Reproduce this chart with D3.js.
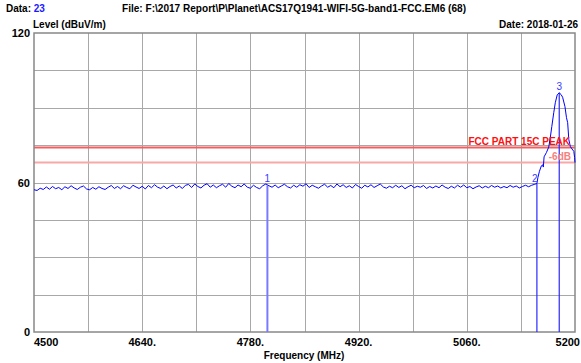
<!DOCTYPE html>
<html>
<head>
<meta charset="utf-8">
<script src="https://cdn.jsdelivr.net/npm/d3@7"></script>
<style>
  body { margin: 0; background: #fff; }
  text { font-family: "Liberation Sans", Arial, sans-serif; }
</style>
</head>
<body>
<div id="chart"></div>
<script>
// sweep: 4500 MHz start, 4 MHz per sample, levels in dBuV/m
var sweepStart = 4500;
var sweepStep = 4;
var noiseLevels = [
  57.1, 56.8, 57.7, 57.2, 58.2, 57.3, 58.4, 57.5, 58.0, 57.1, 58.3, 57.6, 58.7, 57.8, 57.2, 58.1, 58.6, 57.4, 57.1, 58.0, 57.3, 58.3, 57.6, 57.2, 58.1,
  58.8, 57.6, 58.4, 57.5, 58.7, 58.0, 57.5, 58.9, 58.2, 57.6, 58.5, 57.4, 58.8, 57.9, 59.1, 58.1, 57.6, 58.6, 57.5, 58.4, 59.0, 57.8, 58.6, 57.6, 58.9,
  59.2, 58.0, 59.4, 58.4, 57.8, 58.9, 59.5, 58.1, 59.0, 57.9, 58.7, 59.3, 58.1, 59.6, 58.5, 57.9, 59.0, 58.3, 59.4, 58.1, 57.7, 58.9, 58.0, 57.5, 58.7,
  59.4, 58.7, 58.1, 59.0, 57.9, 58.6, 59.3, 58.3, 57.8, 58.9, 58.1, 59.1, 58.5, 59.5, 58.0, 58.9, 58.3, 57.7, 58.6, 59.3, 58.1, 58.8, 57.9, 59.4, 58.3,
  59.1, 58.0, 58.7, 57.8, 59.2, 58.4, 57.7, 58.9, 58.2, 59.1, 58.0, 58.7, 59.4, 58.2, 57.7, 58.5, 57.9, 58.9, 58.0, 58.7, 57.5, 58.3, 58.9, 57.9, 58.5,
  58.1, 58.8, 57.6, 58.4, 57.8, 58.6, 57.9, 59.0, 58.1, 57.6, 58.5, 57.8, 58.9, 58.1, 59.0, 57.9, 58.4, 57.5, 58.2, 58.7, 57.8, 58.5, 57.9, 58.8, 58.1,
  58.6, 57.8, 58.4, 57.9, 58.8, 58.1, 58.6, 57.8, 58.4, 58.9, 58.3, 58.9, 59.3
];
// emission peak at the band edge, [MHz, dBuV/m]
var peakTrace = [
  [5150.7, 59.6], [5152, 62.0], [5154, 64.5], [5156.5, 66.7], [5158, 67.1], [5159, 66.2],
  [5160, 70.3], [5163, 72.0], [5166, 74.2], [5168, 78.0], [5170, 82.5], [5172.5, 88.0],
  [5174.5, 92.0], [5177, 95.2], [5179.6, 96.0], [5182, 95.3], [5184, 94.2], [5187, 90.5],
  [5189, 86.0], [5190.5, 84.0], [5192, 77.2], [5194, 74.4], [5196, 73.5], [5198.5, 72.5],
  [5199.5, 70.0], [5200, 68.0]
];
var markers = [
  { name: "1", freq: 4802, level: 58.8 },
  { name: "2", freq: 5150.7, level: 59.6 },
  { name: "3", freq: 5179.6, level: 96.0 }
];
var limits = [
  { label: "FCC PART 15C PEAK", level: 74 },
  { label: "-6dB", level: 68 }
];
var xTickLabels = [4500, 4640, 4780, 4920, 5060, 5200];
var yTickLabels = [0, 60, 120];

var width = 581, height = 363;
var margin = { top: 33, right: 6, bottom: 31, left: 34 };

var svg = d3.select('#chart').append('svg')
    .attr('width', width)
    .attr('height', height);

var x = d3.scaleLinear().domain([4500, 5200]).range([margin.left, width - margin.right]);
var y = d3.scaleLinear().domain([0, 120]).range([height - margin.bottom, margin.top]);

// header texts
var head = svg.append('text')
    .attr('x', 6).attr('y', 12)
    .style('font-size', '10px').style('font-weight', 'bold');
head.append('tspan').text('Data: ');
head.append('tspan').attr('fill', '#1a1aff').text('23');

svg.append('text')
    .attr('x', 122).attr('y', 12)
    .attr('textLength', 344).attr('lengthAdjust', 'spacingAndGlyphs')
    .style('font-size', '10px').style('font-weight', 'bold')
    .text('File: F:\\2017 Report\\P\\Planet\\ACS17Q1941-WIFI-5G-band1-FCC.EM6  (68)');

svg.append('text')
    .attr('x', 33).attr('y', 28)
    .style('font-size', '10px').style('font-weight', 'bold')
    .text('Level (dBuV/m)');

svg.append('text')
    .attr('x', 578).attr('y', 28)
    .attr('text-anchor', 'end')
    .style('font-size', '10px').style('font-weight', 'bold')
    .text('Date: 2018-01-26');

// grid
var grid = svg.append('g');
grid.selectAll('line.v')
    .data(d3.range(4570, 5200, 70))
    .enter().append('line')
    .attr('x1', d => Math.round(x(d)) + 0.5).attr('x2', d => Math.round(x(d)) + 0.5)
    .attr('y1', y(120)).attr('y2', y(0))
    .attr('stroke', '#a8a8a8');
grid.selectAll('line.h')
    .data(d3.range(15, 120, 15))
    .enter().append('line')
    .attr('y1', d => Math.round(y(d)) + 0.5).attr('y2', d => Math.round(y(d)) + 0.5)
    .attr('x1', x(4500)).attr('x2', x(5200))
    .attr('stroke', '#a8a8a8');

// limit lines
svg.selectAll('line.limit')
    .data(limits)
    .enter().append('line')
    .attr('x1', x(4500)).attr('x2', x(5200))
    .attr('y1', d => y(d.level)).attr('y2', d => y(d.level))
    .attr('stroke', (d, i) => i === 0 ? '#f06060' : '#f8a8a8')
    .attr('stroke-width', 2);

// frame
svg.append('rect')
    .attr('x', x(4500)).attr('y', y(120))
    .attr('width', x(5200) - x(4500)).attr('height', y(0) - y(120))
    .attr('fill', 'none').attr('stroke', '#888').attr('stroke-width', 1.5);

// marker drop lines
svg.selectAll('line.marker')
    .data(markers)
    .enter().append('line')
    .attr('x1', d => x(d.freq)).attr('x2', d => x(d.freq))
    .attr('y1', d => y(d.level)).attr('y2', y(0))
    .attr('stroke', (d, i) => i === 0 ? '#7a7aff' : '#2a2aff')
    .attr('stroke-width', (d, i) => i === 0 ? 2 : 1.2);

// trace
var traceData = noiseLevels.map((v, i) => [sweepStart + i * sweepStep, v]).concat(peakTrace);
svg.append('path')
    .datum(traceData)
    .attr('fill', 'none')
    .attr('stroke', '#0000ff')
    .attr('stroke-width', 1)
    .attr('d', d3.line().x(d => x(d[0])).y(d => y(d[1])));

// limit labels
svg.append('text')
    .attr('x', 570).attr('y', y(74) - 3)
    .attr('text-anchor', 'end')
    .attr('fill', '#ff1010')
    .style('font-size', '10px').style('font-weight', 'bold')
    .text(limits[0].label);
svg.append('text')
    .attr('x', 571).attr('y', y(68) - 3)
    .attr('text-anchor', 'end')
    .attr('fill', '#f78080')
    .style('font-size', '10px').style('font-weight', 'bold')
    .text(limits[1].label);

// marker labels
svg.selectAll('text.mk')
    .data(markers)
    .enter().append('text')
    .attr('x', (d, i) => x(d.freq) - (i === 1 ? 2 : 0))
    .attr('y', (d, i) => y(d.level) - (i === 1 ? 1 : 3))
    .attr('text-anchor', 'middle')
    .attr('fill', '#3a3aff')
    .style('font-size', '10px')
    .text(d => d.name);

// y tick labels
svg.selectAll('text.yt')
    .data(yTickLabels)
    .enter().append('text')
    .attr('x', 30).attr('y', d => y(d) + 4)
    .attr('text-anchor', 'end')
    .style('font-size', '11px').style('font-weight', 'bold')
    .text(d => d);

// x tick labels
svg.selectAll('text.xt')
    .data(xTickLabels)
    .enter().append('text')
    .attr('x', (d, i) => i === 0 ? x(d) : i === xTickLabels.length - 1 ? 580 : x(d))
    .attr('y', 346)
    .attr('text-anchor', (d, i) => i === 0 ? 'start' : i === xTickLabels.length - 1 ? 'end' : 'middle')
    .style('font-size', '11px').style('font-weight', 'bold')
    .text((d, i) => (i === 0 || i === xTickLabels.length - 1) ? d : d + '.');

svg.append('text')
    .attr('x', 304).attr('y', 359)
    .attr('text-anchor', 'middle')
    .style('font-size', '10px').style('font-weight', 'bold')
    .text('Frequency (MHz)');
</script>
</body>
</html>
